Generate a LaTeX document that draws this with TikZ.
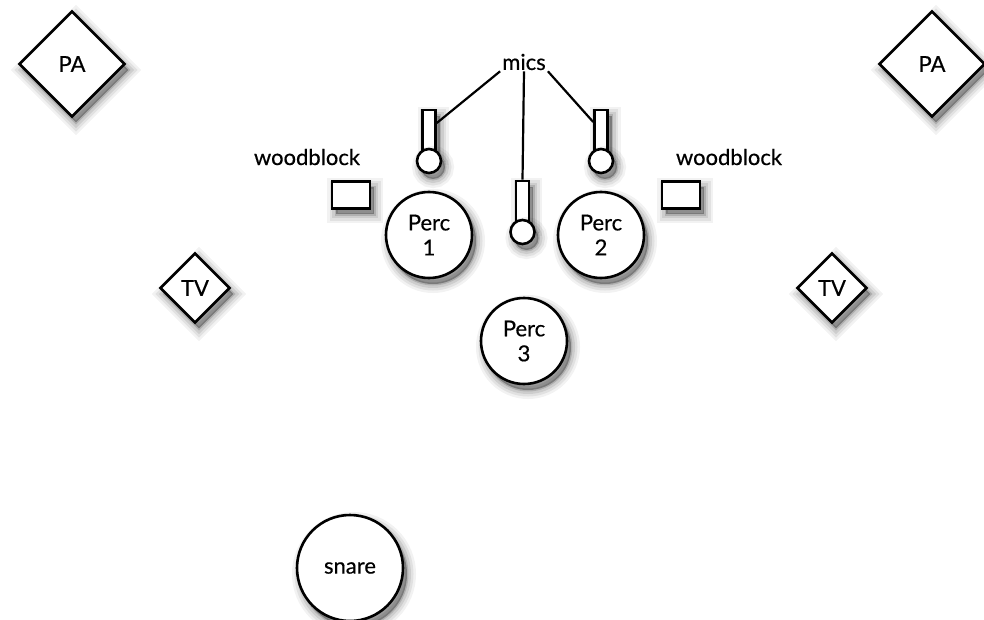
\documentclass[tikz,border=0pt]{standalone}
\usepackage{fontspec}
\setmainfont{Lato}[FakeBold=0.5]
\usetikzlibrary{shapes.geometric}

\tikzset{
  label text/.style={font=\fontsize{22}{25}\selectfont},
  % soft drop shadow, built from stacked translucent layers
  soft shadow/.style={
    preaction={draw=black, fill=black, line width=18pt, opacity=0.05,
      transform canvas={xshift=4pt, yshift=-6pt}},
    preaction={draw=black, fill=black, line width=13pt, opacity=0.07,
      transform canvas={xshift=4pt, yshift=-6pt}},
    preaction={draw=black, fill=black, line width=8pt, opacity=0.09,
      transform canvas={xshift=4pt, yshift=-6pt}},
    preaction={draw=black, fill=black, line width=3pt, opacity=0.14,
      transform canvas={xshift=4pt, yshift=-6pt}}},
  item/.style={soft shadow, draw=black, fill=white, line width=2.6pt,
    label text},
  speaker/.style={item, diamond, inner sep=0pt,
    minimum width=106pt, minimum height=106pt},
  monitor/.style={item, diamond, inner sep=0pt,
    minimum width=70pt, minimum height=70pt},
  player/.style={item, circle, inner sep=0pt, align=center,
    minimum size=86pt},
  drum/.style={item, circle, inner sep=0pt, minimum size=106pt},
  block/.style={item, rectangle, minimum width=38pt, minimum height=27pt},
  micbody/.style={item, rectangle, inner sep=0pt,
    minimum width=13pt, minimum height=40pt},
  michead/.style={item, circle, inner sep=0pt, minimum size=24pt},
  wire/.style={line width=2.2pt, draw=black},
}

\begin{document}
\begin{tikzpicture}[x=1pt,y=-1pt]
  \useasboundingbox (0,0) rectangle (984,620);

  % loudspeakers and monitors
  \node[speaker] (paL) at (72,64) {PA};
  \node[speaker] (paR) at (932,64) {PA};
  \node[monitor] (tvL) at (195,288) {TV};
  \node[monitor] (tvR) at (832,288) {TV};

  % woodblocks
  \node[label text] (wbtL) at (307,157) {woodblock};
  \node[label text] (wbtR) at (729,157) {woodblock};
  \node[block] (wbL) at (351,195) {};
  \node[block] (wbR) at (681,195) {};

  % players
  \node[player] (p1) at (429,235) {Perc\\1};
  \node[player] (p2) at (601,235) {Perc\\2};
  \node[player] (p3) at (524,341) {Perc\\3};
  \node[drum] (snare) at (350,568) {snare};

  % microphones
  \node[micbody] (micL) at (429,130) {};
  \node[michead] (micLh) at (429,161) {};
  \node[micbody] (micR) at (601,130) {};
  \node[michead] (micRh) at (601,161) {};
  \node[micbody] (micC) at (522.5,201) {};
  \node[michead] (micCh) at (522.5,232) {};

  \node[label text, inner sep=1pt] (mics) at (524,62) {mics};
  \draw[wire] ([xshift=-1pt]mics.south west) -- ([yshift=7pt]micL.east);
  \draw[wire] ([xshift=1pt]mics.south east) -- ([yshift=8pt]micR.west);
  \draw[wire] (mics.south) -- (micC.north);
\end{tikzpicture}
\end{document}
